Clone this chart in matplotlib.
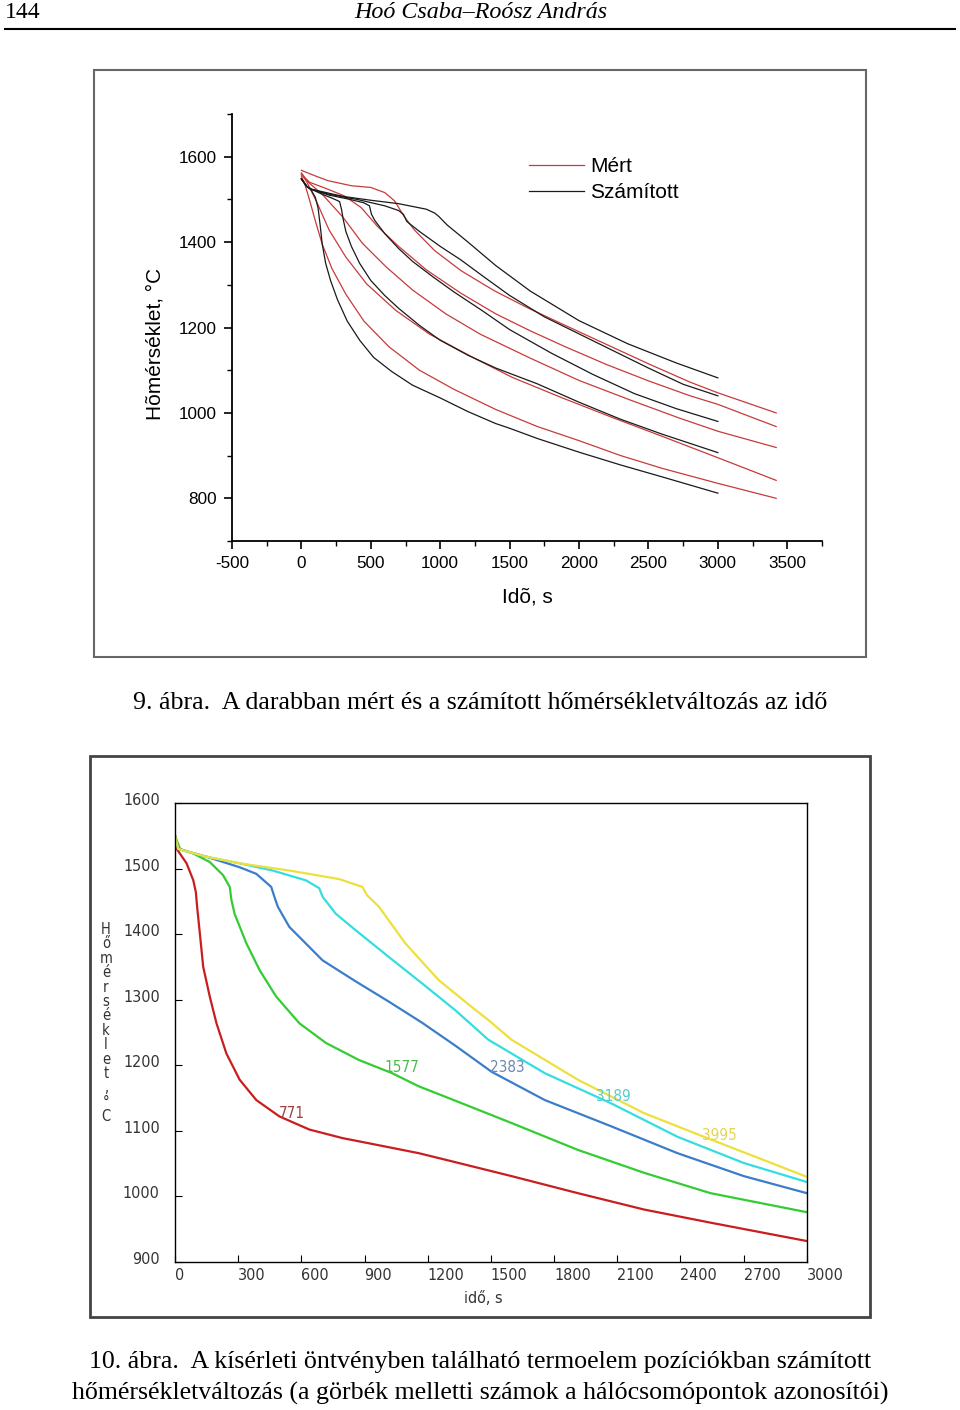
import matplotlib
matplotlib.use('Agg')
import matplotlib.pyplot as plt
from matplotlib.lines import Line2D
from matplotlib.patches import Rectangle
from matplotlib.ticker import MultipleLocator
from matplotlib.transforms import ScaledTranslation

plt.rcParams['axes.unicode_minus'] = False

# --- 9. ábra: számított (fekete) görbék ---
calc1_t = [0, 40, 70, 100, 120, 135, 150, 175, 210, 260, 330, 420, 520, 650, 800, 1000, 1200, 1400, 1500, 1700, 2000, 2300, 2600, 3000]
calc1_T = [1548, 1530, 1522, 1505, 1480, 1440, 1395, 1350, 1310, 1265, 1215, 1170, 1130, 1097, 1065, 1035, 1003, 975, 964, 940, 908, 878, 850, 812]
calc2_t = [0, 40, 70, 150, 220, 275, 290, 300, 320, 360, 420, 500, 600, 700, 850, 1000, 1200, 1400, 1700, 2000, 2300, 2600, 3000]
calc2_T = [1548, 1530, 1524, 1512, 1503, 1495, 1475, 1455, 1425, 1390, 1350, 1310, 1275, 1245, 1205, 1170, 1135, 1105, 1068, 1025, 985, 950, 907]
calc3_t = [0, 40, 70, 200, 350, 450, 490, 505, 530, 600, 700, 800, 950, 1100, 1300, 1500, 1800, 2100, 2400, 2700, 3000]
calc3_T = [1548, 1530, 1524, 1510, 1500, 1492, 1485, 1465, 1450, 1420, 1385, 1355, 1318, 1283, 1240, 1195, 1140, 1090, 1045, 1010, 980]
calc4_t = [0, 40, 70, 200, 400, 600, 700, 735, 760, 850, 1000, 1150, 1300, 1500, 1750, 2000, 2250, 2500, 2750, 3000]
calc4_T = [1548, 1530, 1524, 1512, 1500, 1485, 1474, 1465, 1448, 1425, 1390, 1358, 1322, 1275, 1225, 1185, 1145, 1105, 1067, 1040]
calc5_t = [0, 40, 70, 300, 500, 700, 900, 960, 990, 1050, 1200, 1400, 1650, 2000, 2350, 2700, 3000]
calc5_T = [1548, 1530, 1524, 1507, 1498, 1490, 1477, 1468, 1460, 1440, 1400, 1345, 1285, 1216, 1162, 1117, 1082]

# --- 9. ábra: mért (piros) görbék ---
meas1_t = [0, 30, 60, 100, 150, 220, 320, 450, 630, 850, 1100, 1400, 1700, 2000, 2300, 2600, 3000, 3420]
meas1_T = [1555, 1530, 1497, 1450, 1395, 1338, 1278, 1215, 1155, 1100, 1055, 1008, 968, 935, 900, 870, 835, 800]
meas2_t = [0, 40, 106, 200, 320, 470, 680, 920, 1240, 1520, 1880, 2250, 2600, 3000, 3420]
meas2_T = [1560, 1540, 1497, 1428, 1365, 1302, 1240, 1185, 1129, 1083, 1035, 988, 945, 895, 842]
meas3_t = [0, 50, 150, 300, 440, 610, 800, 1040, 1290, 1650, 2000, 2370, 2730, 3000, 3420]
meas3_T = [1562, 1540, 1512, 1458, 1397, 1342, 1288, 1232, 1184, 1128, 1076, 1030, 987, 957, 919]
meas4_t = [0, 60, 190, 310, 430, 550, 700, 900, 1150, 1400, 1650, 1900, 2200, 2500, 2800, 3000, 3420]
meas4_T = [1558, 1540, 1524, 1508, 1481, 1436, 1390, 1335, 1280, 1232, 1192, 1155, 1113, 1075, 1040, 1020, 968]
meas5_t = [0, 100, 190, 360, 500, 600, 670, 740, 815, 960, 1150, 1390, 1630, 1900, 2200, 2500, 2800, 3000, 3420]
meas5_T = [1568, 1555, 1544, 1532, 1528, 1516, 1497, 1460, 1428, 1380, 1333, 1286, 1246, 1205, 1160, 1115, 1072, 1047, 1000]

# --- 10. ábra: hálócsomópontok ---
node_ids = ['771', '1577', '2383', '3189', '3995']
n771_t = [0, 8, 55, 87, 99, 105, 118, 134, 165, 197, 244, 307, 386, 496, 638, 795, 953, 1157, 1284, 1598, 1913, 2228, 2543, 3000]
n771_T = [1551, 1530, 1508, 1482, 1464, 1442, 1401, 1350, 1305, 1264, 1218, 1178, 1147, 1122, 1102, 1089, 1079, 1066, 1056, 1031, 1005, 980, 960, 932]
n1577_t = [0, 24, 87, 165, 228, 260, 268, 283, 339, 402, 480, 591, 717, 874, 1031, 1157, 1284, 1598, 1913, 2228, 2543, 3000]
n1577_T = [1550, 1530, 1523, 1510, 1490, 1472, 1452, 1431, 1386, 1345, 1305, 1264, 1234, 1208, 1188, 1168, 1152, 1112, 1071, 1036, 1005, 976]
n2383_t = [0, 15, 150, 307, 386, 457, 472, 488, 543, 701, 858, 1016, 1173, 1331, 1504, 1756, 2071, 2386, 2701, 3000]
n2383_T = [1550, 1530, 1518, 1502, 1492, 1472, 1457, 1442, 1411, 1360, 1328, 1297, 1265, 1230, 1190, 1147, 1107, 1066, 1031, 1005]
n3189_t = [0, 15, 150, 307, 464, 622, 685, 701, 764, 858, 1016, 1173, 1331, 1488, 1756, 2071, 2386, 2701, 3000]
n3189_T = [1550, 1530, 1518, 1508, 1497, 1482, 1470, 1457, 1431, 1406, 1365, 1325, 1284, 1239, 1188, 1142, 1091, 1051, 1022]
n3995_t = [0, 15, 150, 307, 543, 780, 890, 913, 968, 1094, 1252, 1409, 1488, 1598, 1913, 2228, 2543, 3000]
n3995_T = [1550, 1530, 1518, 1508, 1497, 1484, 1472, 1459, 1442, 1386, 1330, 1289, 1269, 1239, 1178, 1127, 1087, 1030]
label_t = [553, 1077, 1578, 2083, 2584]
label_T = [1127, 1196, 1196, 1152, 1093]

serif = ['Liberation Serif', 'DejaVu Serif']
sans = ['Liberation Sans', 'DejaVu Sans']
narrow = ['Liberation Sans Narrow', 'DejaVu Sans']

fig = plt.figure(figsize=(9.6, 14.1), dpi=100)

# header
fig.text(5 / 960, 1 - 13 / 1410, '144', family=serif, fontsize=17, va='center', ha='left')
fig.text(481 / 960, 1 - 13 / 1410, 'Hoó Csaba–Roósz András', family=serif, style='italic',
         fontsize=17.3, va='center', ha='center')
fig.add_artist(Line2D([5 / 960, 955 / 960], [1 - 29 / 1410, 1 - 29 / 1410], color='black', lw=1.5,
                      transform=fig.transFigure))

# frames round the two charts
fig.add_artist(Rectangle((94 / 960, 1 - 657 / 1410), 772 / 960, 587 / 1410, fill=False,
                         edgecolor='#666666', lw=1.5, transform=fig.transFigure))
fig.add_artist(Rectangle((90 / 960, 1 - 1317 / 1410), 780 / 960, 561 / 1410, fill=False,
                         edgecolor='#444444', lw=2, transform=fig.transFigure))

# ---------- 9. ábra ----------
ax = fig.add_axes([232 / 960, 1 - 541 / 1410, 590 / 960, 427 / 1410])
red = '#c83a3a'
blk = '#1a1a1a'
for t, T in [(meas1_t, meas1_T), (meas2_t, meas2_T), (meas3_t, meas3_T), (meas4_t, meas4_T), (meas5_t, meas5_T)]:
    ax.plot(t, T, color=red, lw=0.9)
for t, T in [(calc1_t, calc1_T), (calc2_t, calc2_T), (calc3_t, calc3_T), (calc4_t, calc4_T), (calc5_t, calc5_T)]:
    ax.plot(t, T, color=blk, lw=0.9)
ax.set_xlim(-500, 3750)
ax.set_ylim(700, 1700)
ax.set_xticks(range(-500, 3501, 500))
ax.set_yticks(range(800, 1601, 200))
ax.xaxis.set_minor_locator(MultipleLocator(250))
ax.yaxis.set_minor_locator(MultipleLocator(100))
ax.spines['top'].set_visible(False)
ax.spines['right'].set_visible(False)
ax.spines['left'].set_linewidth(1.3)
ax.spines['bottom'].set_linewidth(1.3)
ax.tick_params(which='major', direction='out', length=6, width=1.2, labelsize=12.3, pad=5)
ax.tick_params(which='minor', direction='out', length=3.5, width=1.0)
for lab in ax.get_xticklabels() + ax.get_yticklabels():
    lab.set_family(sans)
ax.set_xlabel('Idõ, s', family=sans, fontsize=15, labelpad=12)
ax.set_ylabel('Hõmérséklet, °C', family=sans, fontsize=15)
ax.yaxis.set_label_coords(-0.1136, 0.4625)
leg_handles = [Line2D([], [], color=red, lw=0.9), Line2D([], [], color=blk, lw=0.9)]
ax.legend(leg_handles, ['Mért', 'Számított'], loc='upper left', bbox_to_anchor=(0.485, 0.924),
          frameon=False, borderpad=0, handlelength=2.65, handletextpad=0.3, labelspacing=0.35,
          prop={'family': sans, 'size': 15})

fig.text(480 / 960, 1 - 703 / 1410,
         '9. ábra.  A darabban mért és a számított hőmérsékletváltozás az idő',
         family=serif, fontsize=18.6, ha='center', va='center')

# ---------- 10. ábra ----------
bx = fig.add_axes([175 / 960, 1 - 1262 / 1410, 631.7 / 960, 459 / 1410])
node_colors = ['#c81e1e', '#33cc33', '#3a7ecb', '#33dde0', '#eee03c']
label_colors = ['#a04040', '#4cbb4c', '#6a88b0', '#55cccc', '#e6d450']
for t, T, c in zip([n771_t, n1577_t, n2383_t, n3189_t, n3995_t],
                   [n771_T, n1577_T, n2383_T, n3189_T, n3995_T], node_colors):
    bx.plot(t, T, color=c, lw=1.6)
for name, t, T, c in zip(node_ids, label_t, label_T, label_colors):
    bx.text(t, T, name, color=c, family=narrow, stretch='condensed', fontsize=11,
            ha='center', va='center')
bx.set_xlim(0, 3000)
bx.set_ylim(900, 1600)
bx.set_xticks(range(0, 3001, 300))
bx.set_yticks(range(900, 1601, 100))
for s in bx.spines.values():
    s.set_linewidth(1.0)
bx.tick_params(direction='in', length=5, width=0.8, labelsize=11.5, labelcolor='#333333', pad=4)
bx.tick_params(axis='y', pad=11)
for lab in bx.get_xticklabels():
    lab.set_family(narrow)
    lab.set_stretch('condensed')
    lab.set_horizontalalignment('left')
for lab in bx.get_yticklabels():
    lab.set_family(narrow)
    lab.set_stretch('condensed')
    lab.set_transform(lab.get_transform() + ScaledTranslation(0, 0.04, fig.dpi_scale_trans))
bx.set_xlabel('idő, s', family=narrow, stretch='condensed', fontsize=11.5, color='#333333')
bx.xaxis.set_label_coords(0.4876, -0.064)
fig.text(106 / 960, 1 - 1023 / 1410, '\n'.join('Hőmérséklet,°C'), family=narrow,
         stretch='condensed', fontsize=10.5, color='#333333', ha='center', va='center',
         linespacing=0.95)

fig.text(480 / 960, 1 - 1362 / 1410,
         '10. ábra.  A kísérleti öntvényben található termoelem pozíciókban számított',
         family=serif, fontsize=18.6, ha='center', va='center')
fig.text(480 / 960, 1 - 1393 / 1410,
         'hőmérsékletváltozás (a görbék melletti számok a hálócsomópontok azonosítói)',
         family=serif, fontsize=18.6, ha='center', va='center')

fig.savefig('out.png', dpi=100)
